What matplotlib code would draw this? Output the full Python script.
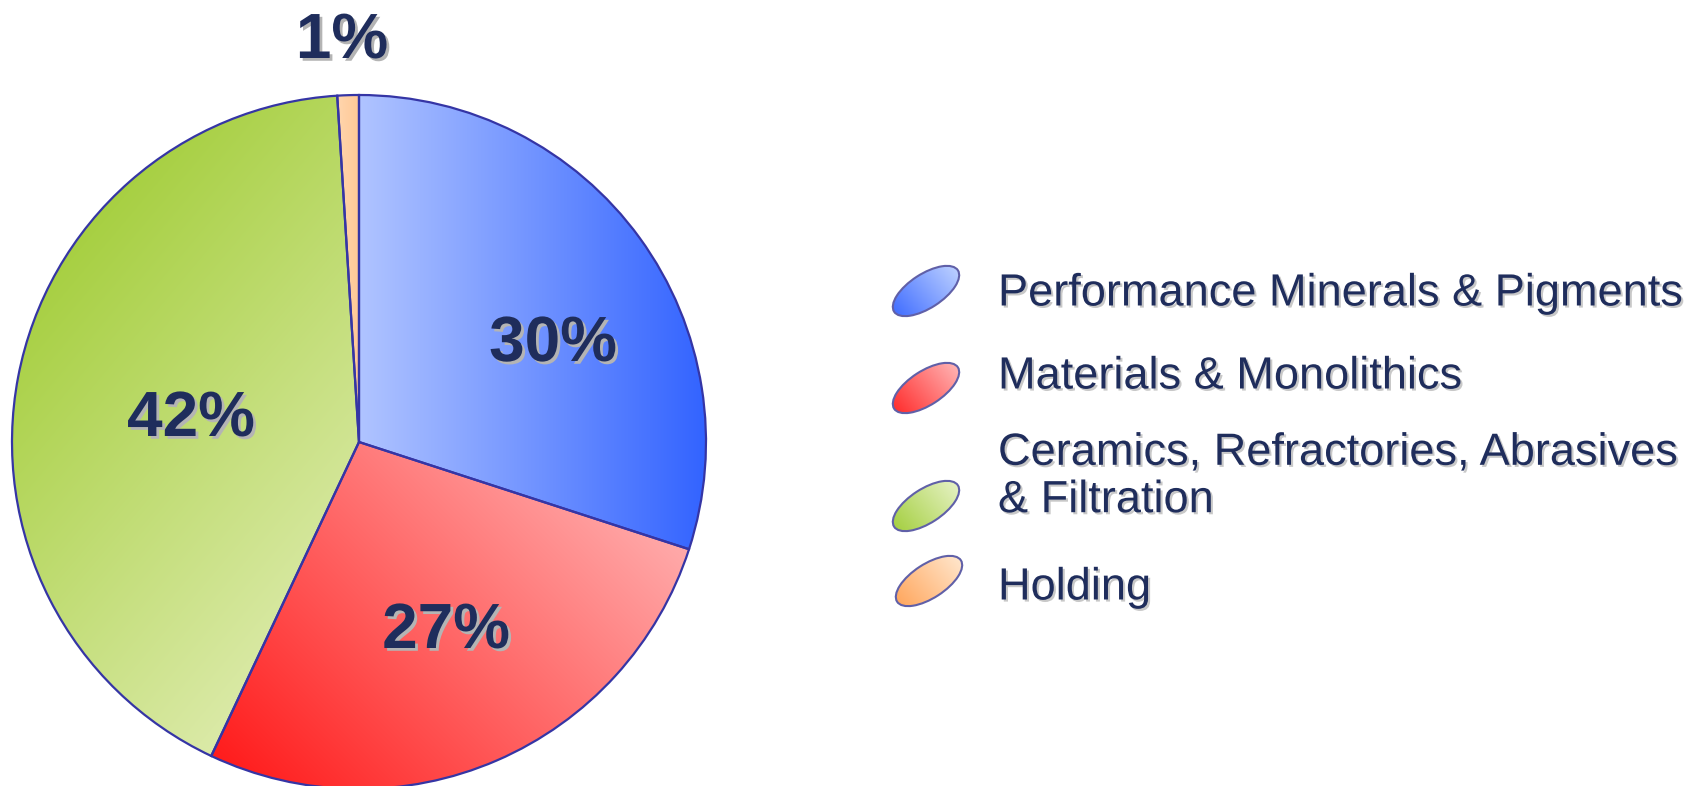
import matplotlib
matplotlib.use('Agg')
import matplotlib.pyplot as plt
import matplotlib.patheffects as pe
from matplotlib.colors import to_rgb
from matplotlib.patches import Ellipse
import numpy as np

# данные
labels = ['Performance Minerals & Pigments', 'Materials & Monolithics',
          'Ceramics, Refractories, Abrasives\n& Filtration', 'Holding']
shares = [30, 27, 42, 1]
pct_labels = ['30%', '27%', '42%', '1%']

# цвета градиентов (начало, конец) и направление (градусы)
slice_grad = [('#b0c4ff', '#3162ff'), ('#ffaaaa', '#ff1c1c'),
              ('#a6cf40', '#dbeaa8'), ('#ffd6ae', '#ffc896')]
slice_dir = [0, 225, -40, 0]
key_grad = [('#bcd0ff', '#4470ff'), ('#ffb4b4', '#ff3030'),
            ('#e6f2c4', '#a6d044'), ('#ffe6cc', '#ffa860')]

navy = '#1f2d5c'
edge = '#3535a5'
W, H = 1704, 786

fig = plt.figure(figsize=(W / 100, H / 100), dpi=100)
ax = fig.add_axes([0, 0, 1, 1])

cx, cy, R = 359, H - 442, 347


def gradient_fill(patch, verts, c0, c1, angle, zorder):
    a = np.deg2rad(angle)
    d = np.array([np.cos(a), np.sin(a)])
    proj = verts @ d
    x0, y0 = verts.min(axis=0) - 2
    x1, y1 = verts.max(axis=0) + 2
    xs = np.linspace(x0, x1, 300)
    ys = np.linspace(y0, y1, 300)
    X, Y = np.meshgrid(xs, ys)
    t = (X * d[0] + Y * d[1] - proj.min()) / (proj.max() - proj.min())
    t = np.clip(t, 0, 1)[..., None]
    img = np.array(to_rgb(c0)) * (1 - t) + np.array(to_rgb(c1)) * t
    im = ax.imshow(img, extent=[x0, x1, y0, y1], origin='lower',
                   aspect='auto', zorder=zorder, interpolation='bilinear')
    im.set_clip_path(patch)


wedges, _ = ax.pie(shares, center=(cx, cy), radius=R, startangle=90,
                   counterclock=False, frame=True,
                   wedgeprops=dict(facecolor='none', edgecolor=edge,
                                   linewidth=1.6, zorder=3))
for w, (c0, c1), ang in zip(wedges, slice_grad, slice_dir):
    gradient_fill(w, w.get_path().vertices, c0, c1, ang, 1)

shadow = [pe.SimplePatchShadow(offset=(2, -2), shadow_rgbFace='#b4b4b4', alpha=1),
          pe.Normal()]

# подписи процентов
pct_pos = [(553, 344), (446, 631), (191, 419), (342, 41)]
for txt, (x, y) in zip(pct_labels, pct_pos):
    ax.text(x, H - y, txt, ha='center', va='center', fontsize=46,
            fontweight='bold', color=navy, family='Liberation Sans',
            path_effects=shadow, zorder=5)

# легенда
key_pos = [(926, 291), (926, 388), (926, 506), (929, 581)]
text_pos = [(998, 294), (998, 377), (998, 477), (998, 588)]
ea, eb, eang = 38, 17, 33
th = np.deg2rad(eang)
s = np.linspace(0, 2 * np.pi, 100)
for lab, (ex, ey), (tx, ty), (c0, c1) in zip(labels, key_pos, text_pos, key_grad):
    e = Ellipse((ex, H - ey), width=2 * ea, height=2 * eb, angle=eang,
                facecolor='none', edgecolor='#6060a8', linewidth=1.5, zorder=3)
    ax.add_patch(e)
    vv = np.column_stack([ex + ea * np.cos(s) * np.cos(th) - eb * np.sin(s) * np.sin(th),
                          H - ey + ea * np.cos(s) * np.sin(th) + eb * np.sin(s) * np.cos(th)])
    gradient_fill(e, vv, c1, c0, 40, 2)
    ax.text(tx, H - ty, lab, ha='left', va='center', fontsize=32.5,
            color=navy, family='Liberation Sans', linespacing=1.2,
            path_effects=[pe.SimplePatchShadow(offset=(1.5, -1.5), shadow_rgbFace='#c8c8c8', alpha=1),
                          pe.Normal()], zorder=5)

ax.set_xlim(0, W)
ax.set_ylim(0, H)
ax.axis('off')

fig.savefig('out.png', dpi=100, facecolor='white')
